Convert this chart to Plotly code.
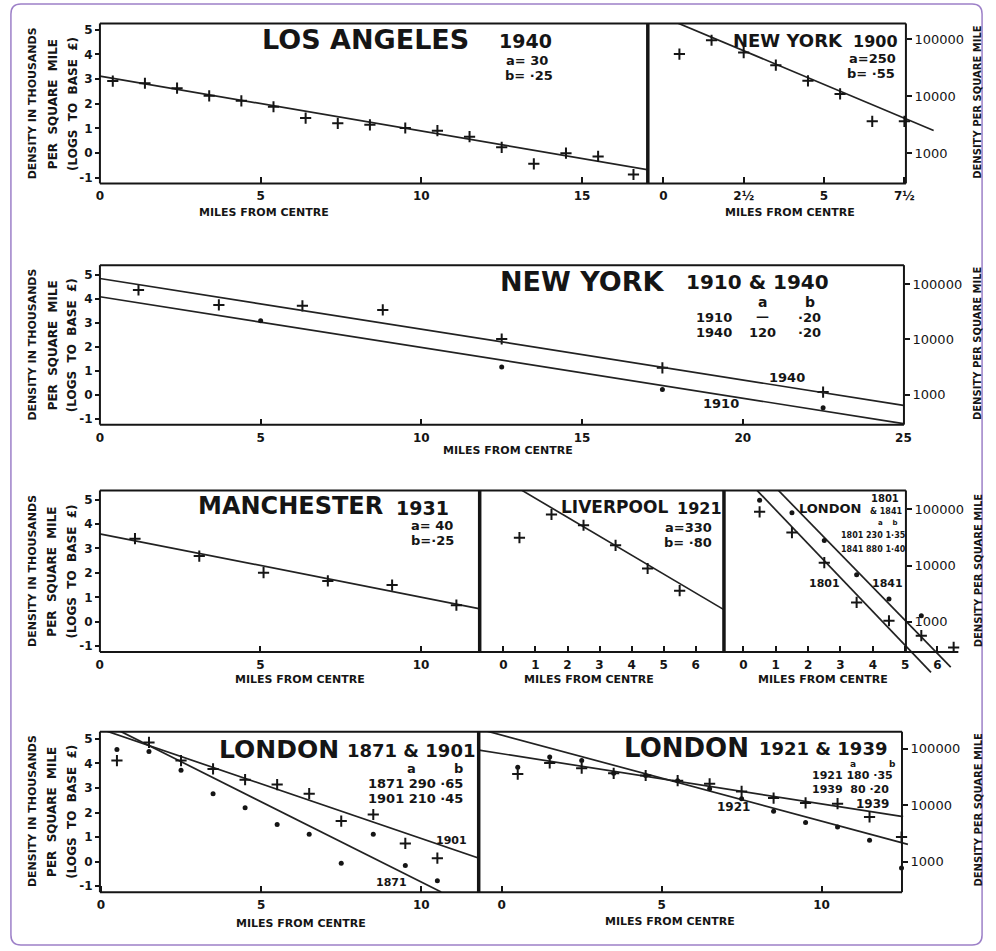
import math
import plotly.graph_objects as go

W, H = 996, 951
INK = "#151515"
FONT = "DejaVu Sans"

# ---------------- data: ln(density, thousands per sq. mile) vs miles from centre ----------------
LA_X = [0.4, 1.4, 2.4, 3.4, 4.4, 5.4, 6.4, 7.4, 8.4, 9.5, 10.5, 11.5, 12.5, 13.5, 14.5, 15.5, 16.6]
LA_Y = [2.92, 2.83, 2.63, 2.32, 2.12, 1.88, 1.42, 1.21, 1.15, 1.02, 0.91, 0.67, 0.24, -0.43, 0.0, -0.13, -0.86]
LA_FIT_X = [0.0, 17.05]
LA_FIT_Y = [3.12, -0.67]

NY00_X = [0.5, 1.5, 2.5, 3.5, 4.5, 5.5, 6.5, 7.5]
NY00_Y = [4.01, 4.57, 4.07, 3.56, 2.93, 2.40, 1.29, 1.29]
NY00_FIT_X = [0.2, 8.41]
NY00_FIT_Y = [5.40, 0.92]

NY40_X = [1.2, 3.7, 6.3, 8.8, 12.5, 17.5, 22.5]
NY40_Y = [4.36, 3.74, 3.70, 3.53, 2.32, 1.12, 0.11]
NY10_X = [5.0, 12.5, 17.5, 22.5]
NY10_Y = [3.08, 1.16, 0.22, -0.54]
NY40_FIT_X = [0.0, 25.0]
NY40_FIT_Y = [4.84, -0.44]
NY10_FIT_X = [0.0, 25.0]
NY10_FIT_Y = [4.08, -1.20]

MAN_X = [1.1, 3.1, 5.1, 7.1, 9.1, 11.1]
MAN_Y = [3.40, 2.69, 2.01, 1.67, 1.50, 0.68]
MAN_FIT_X = [0.0, 11.8]
MAN_FIT_Y = [3.60, 0.54]

LIV_X = [0.5, 1.5, 2.5, 3.5, 4.5, 5.5]
LIV_Y = [3.44, 4.39, 3.95, 3.13, 2.18, 1.27]
LIV_FIT_X = [0.55, 6.9]
LIV_FIT_Y = [5.40, 0.48]

L1801_X = [0.5, 1.5, 2.5, 3.5, 4.5, 5.5, 6.5]
L1801_Y = [4.50, 3.65, 2.42, 0.79, 0.04, -0.57, -1.05]
L1841_X = [0.5, 1.5, 2.5, 3.5, 4.5, 5.5]
L1841_Y = [4.97, 4.46, 3.33, 1.92, 0.93, 0.25]
L1801_FIT_X = [0.39, 5.8]
L1801_FIT_Y = [5.42, -2.07]
L1841_FIT_X = [1.05, 6.41]
L1841_FIT_Y = [5.42, -1.86]

L1871_X = [0.5, 1.5, 2.5, 3.5, 4.5, 5.5, 6.5, 7.5, 8.5, 9.5, 10.5]
L1901_Y = [4.12, 4.86, 4.12, 3.78, 3.34, 3.14, 2.77, 1.65, 1.92, 0.74, 0.14]
L1871_Y = [4.57, 4.49, 3.72, 2.77, 2.19, 1.51, 1.11, -0.07, 1.11, -0.16, -0.78]
L1871_FIT_X = [0.57, 10.62]
L1871_FIT_Y = [5.34, -1.24]
L1901_FIT_X = [0.0, 11.8]
L1901_FIT_Y = [5.40, 0.135]

L1921_X = [0.5, 1.5, 2.5, 3.5, 4.5, 5.5, 6.5, 7.5, 8.5, 9.5, 10.5, 11.5, 12.5]
L1921_Y = [3.85, 4.26, 4.12, 3.60, 3.51, 3.30, 2.97, 2.56, 2.05, 1.59, 1.41, 0.87, -0.26]
L1939_Y = [3.57, 4.02, 3.81, 3.60, 3.51, 3.30, 3.17, 2.86, 2.59, 2.39, 2.36, 1.82, 1.00]
L1921_FIT_X = [-0.72, 12.7]
L1921_FIT_Y = [5.41, 0.70]
L1939_FIT_X = [-0.74, 12.55]
L1939_FIT_Y = [4.55, 1.83]

LEFT_TICK_VALS = [-1, 0, 1, 2, 3, 4, 5]
RIGHT_TICK_TEXT = ["100000", "10000", "1000"]
RIGHT_TICK_VALS = [math.log(100), math.log(10), math.log(1)]

# ---------------- layout helpers ----------------
# row: (pixel of ln=0, pixels per ln unit, box top, box bottom)
ROW1 = (152.7, 24.8, 22.5, 183)
ROW2 = (395.0, 24.1, 265, 425)
ROW3 = (622.7, 24.5, 491, 653)
ROW4 = (863.3, 24.6, 733, 894)

fig = go.Figure()
layout_axes = {}


def axname(i, a):
    return f"{a}axis" if i == 1 else f"{a}axis{i}"


def panel(i, clip, xo, xs, row, xticks, xtext=None, yside=None, ypos=97):
    x0, x1, y0, y1 = clip
    zero, unit, top, bottom = row
    tf = dict(family=FONT, size=12, color=INK, weight="bold")
    layout_axes[axname(i, "x")] = dict(
        domain=[x0 / W, x1 / W], range=[(x0 - xo) / xs, (x1 - xo) / xs],
        anchor="free", position=1 - bottom / H,
        showline=False, showgrid=False, zeroline=False,
        ticks="inside", ticklen=6, tickwidth=2, tickcolor=INK,
        tickvals=xticks, ticktext=xtext or [str(v) for v in xticks],
        ticklabelstandoff=4,
        tickfont=tf, fixedrange=True)
    ya = dict(domain=[1 - y1 / H, 1 - y0 / H], range=[(zero - y1) / unit, (zero - y0) / unit],
              anchor="free", position=ypos / W,
              showline=False, showgrid=False, zeroline=False, fixedrange=True)
    if yside == "left":
        ya.update(side="left", ticks="outside", ticklen=5, tickwidth=2, tickcolor=INK,
                  tickvals=LEFT_TICK_VALS, ticktext=[str(v) for v in LEFT_TICK_VALS],
                  tickfont=dict(family=FONT, size=12, color=INK, weight="bold"))
    elif yside == "right":
        ya.update(side="right", ticks="outside", ticklen=5, tickwidth=2, tickcolor=INK,
                  tickvals=RIGHT_TICK_VALS, ticktext=RIGHT_TICK_TEXT,
                  tickfont=dict(family=FONT, size=13, color=INK))
    else:
        ya.update(showticklabels=False, ticks="")
    layout_axes[axname(i, "y")] = ya


def ref(i):
    return ("x" if i == 1 else f"x{i}"), ("y" if i == 1 else f"y{i}")


def pts(i, xs, ys, symbol="cross"):
    xr, yr = ref(i)
    if symbol == "cross":
        m = dict(symbol="cross-thin", size=8, line=dict(width=2, color=INK), color=INK)
    else:
        m = dict(symbol="circle", size=5, color=INK)
    fig.add_trace(go.Scatter(x=xs, y=ys, mode="markers", marker=m, xaxis=xr, yaxis=yr,
                             cliponaxis=False, hoverinfo="skip", showlegend=False))


def fit(i, xs, ys, yr_override=None):
    xr, yr = ref(i)
    fig.add_trace(go.Scatter(x=xs, y=ys, mode="lines", line=dict(color="#222222", width=1.7),
                             xaxis=xr, yaxis=yr_override or yr, hoverinfo="skip", showlegend=False))


# panels
panel(1, (96.5, 650, ROW1[2], ROW1[3]), 97, 32.5, ROW1, [0, 5, 10, 15], yside="left", ypos=97)
panel(2, (652, 945, ROW1[2], ROW1[3]), 666.7, 32.5, ROW1, [0, 2.5, 5, 7.5], ["0", "2½", "5", "7½"],
      yside="right", ypos=912)
panel(3, (96.5, 910.5, ROW2[2], ROW2[3]), 97, 32.5, ROW2, [0, 5, 10, 15, 20, 25], yside="left", ypos=97)
panel(4, (96.5, 480, ROW3[2], ROW3[3]), 96.7, 32.5, ROW3, [0, 5, 10], yside="left", ypos=97)
panel(5, (482, 727, ROW3[2], ROW3[3]), 505, 32.4, ROW3, [0, 1, 2, 3, 4, 5, 6], yside=None, ypos=482)
panel(6, (729, 968, ROW3[2], 690), 747.7, 32.7, ROW3, [0, 1, 2, 3, 4, 5, 6], yside="right", ypos=912)
panel(7, (96.5, 479, ROW4[2], ROW4[3]), 98, 32.4, ROW4, [0, 5, 10], yside="left", ypos=97)
panel(8, (481, 915, ROW4[2], ROW4[3]), 503.3, 32.34, ROW4, [0, 5, 10], yside="right", ypos=908)

# right-hand axis of the New York 1910 & 1940 panel
layout_axes["yaxis9"] = dict(overlaying="y3", side="right", anchor="free", position=910 / W,
                             range=layout_axes["yaxis3"]["range"], showline=False, showgrid=False,
                             zeroline=False, ticks="outside", ticklen=5, tickwidth=2, tickcolor=INK,
                             tickvals=RIGHT_TICK_VALS, ticktext=RIGHT_TICK_TEXT,
                             tickfont=dict(family=FONT, size=13, color=INK), fixedrange=True)

# traces
fit(1, LA_FIT_X, LA_FIT_Y); pts(1, LA_X, LA_Y)
fit(2, NY00_FIT_X, NY00_FIT_Y); pts(2, NY00_X, NY00_Y)
fit(3, NY40_FIT_X, NY40_FIT_Y, yr_override="y9"); fit(3, NY10_FIT_X, NY10_FIT_Y)
pts(3, NY40_X, NY40_Y); pts(3, NY10_X, NY10_Y, "dot")
fit(4, MAN_FIT_X, MAN_FIT_Y); pts(4, MAN_X, MAN_Y)
fit(5, LIV_FIT_X, LIV_FIT_Y); pts(5, LIV_X, LIV_Y)
fit(6, L1801_FIT_X, L1801_FIT_Y); fit(6, L1841_FIT_X, L1841_FIT_Y)
pts(6, L1801_X, L1801_Y); pts(6, L1841_X, L1841_Y, "dot")
fit(7, L1871_FIT_X, L1871_FIT_Y); fit(7, L1901_FIT_X, L1901_FIT_Y)
pts(7, L1871_X, L1901_Y); pts(7, L1871_X, L1871_Y, "dot")
fit(8, L1921_FIT_X, L1921_FIT_Y); fit(8, L1939_FIT_X, L1939_FIT_Y)
pts(8, L1921_X, L1939_Y); pts(8, L1921_X, L1921_Y, "dot")

# ---------------- frames (paper coordinates) ----------------
shapes = []


def hline(x0, x1, y, w=2):
    shapes.append(dict(type="line", xref="paper", yref="paper", x0=x0 / W, x1=x1 / W,
                       y0=1 - y / H, y1=1 - y / H, line=dict(color=INK, width=w)))


def vline(x, y0, y1, w=2):
    shapes.append(dict(type="line", xref="paper", yref="paper", x0=x / W, x1=x / W,
                       y0=1 - y0 / H, y1=1 - y1 / H, line=dict(color=INK, width=w)))


# row 1
hline(97, 912, ROW1[2]); hline(97, 912, ROW1[3]); vline(97, ROW1[2], ROW1[3]); vline(912, ROW1[2], ROW1[3])
vline(651, ROW1[2], ROW1[3], 3.5)
# row 2
hline(97, 910, ROW2[2]); hline(97, 910, ROW2[3]); vline(97, ROW2[2], ROW2[3]); vline(910, ROW2[2], ROW2[3])
# row 3
hline(97, 912, ROW3[2]); hline(97, 965, ROW3[3]); vline(97, ROW3[2], ROW3[3]); vline(912, ROW3[2], ROW3[3])
vline(481, ROW3[2], ROW3[3], 3.5); vline(728, ROW3[2], ROW3[3], 3.5)
# row 4
hline(97, 908, ROW4[2]); hline(97, 908, ROW4[3]); vline(97, ROW4[2], ROW4[3]); vline(908, ROW4[2], ROW4[3])
vline(480, ROW4[2], ROW4[3], 3.5)

# purple rounded page border
bx0, by0, bx1, by1, r = 7, 3, 989, 947, 10
def P(x, y):
    return f"{x / W:.5f},{1 - y / H:.5f}"
path = (f"M{P(bx0 + r, by0)} L{P(bx1 - r, by0)} Q{P(bx1, by0)} {P(bx1, by0 + r)} "
        f"L{P(bx1, by1 - r)} Q{P(bx1, by1)} {P(bx1 - r, by1)} L{P(bx0 + r, by1)} "
        f"Q{P(bx0, by1)} {P(bx0, by1 - r)} L{P(bx0, by0 + r)} Q{P(bx0, by0)} {P(bx0 + r, by0)} Z")
shapes.append(dict(type="path", xref="paper", yref="paper", path=path,
                   line=dict(color="#9d80c8", width=1.5)))

# ---------------- texts ----------------
annotations = []


def txt(s, x, y, size, bold=True, angle=0):
    annotations.append(dict(text=f"<b>{s}</b>" if bold else s, x=x / W, y=1 - y / H,
                            xref="paper", yref="paper", xanchor="center", yanchor="middle",
                            showarrow=False, textangle=angle, borderpad=0,
                            font=dict(family=FONT, size=size, color=INK)))


# row 1
txt("LOS ANGELES", 366, 39, 27); txt("1940", 527, 40, 19)
txt("a= 30", 529, 60, 13); txt("b= ·25", 531, 75, 13)
txt("NEW YORK", 793, 40, 18); txt("1900", 881, 41, 16)
txt("a=250", 878, 58, 13); txt("b= ·55", 877, 73, 13)
txt("MILES FROM CENTRE", 263, 212, 11); txt("MILES FROM CENTRE", 795, 212, 11)
# row 2
txt("NEW YORK", 585, 281, 27); txt("1910 &amp; 1940", 762, 282, 20)
txt("a", 767, 302, 14); txt("b", 815, 302, 14)
txt("1910", 718, 318, 13); txt("—", 767, 317, 13); txt("·20", 815, 318, 13)
txt("1940", 718, 333, 13); txt("120", 767, 333, 13); txt("·20", 815, 333, 13)
txt("1940", 792, 378, 13); txt("1910", 725, 404, 13)
txt("MILES FROM CENTRE", 510, 451, 11)
# row 3
txt("MANCHESTER", 290, 507, 24); txt("1931", 423, 509, 19)
txt("a= 40", 433, 526, 13); txt("b=·25", 433, 541, 13)
txt("LIVERPOOL", 617, 508, 17); txt("1921", 703, 509, 16)
txt("a=330", 692, 528, 13); txt("b= ·80", 692, 543, 13)
txt("LONDON", 835, 509, 13); txt("1801", 891, 499, 10); txt("&amp; 1841", 892, 512, 8)
txt("a    b", 893, 524, 7)
txt("1801 230 1·35", 879, 536, 8); txt("1841 880 1·40", 879, 550, 8)
txt("1801", 830, 584, 11); txt("1841", 893, 584, 11)
txt("MILES FROM CENTRE", 299, 681, 11); txt("MILES FROM CENTRE", 592, 681, 11)
txt("MILES FROM CENTRE", 828, 681, 11)
# row 4
txt("LONDON", 278, 751, 25); txt("1871 &amp; 1901", 412, 752, 18)
txt("a", 412, 770, 13); txt("b", 460, 770, 13)
txt("1871 290 ·65", 416, 785, 13); txt("1901 210 ·45", 416, 800, 13)
txt("1901", 453, 842, 11); txt("1871", 392, 884, 11)
txt("MILES FROM CENTRE", 300, 925, 11)
txt("LONDON", 690, 749, 26); txt("1921 &amp; 1939", 828, 750, 18)
txt("a", 858, 765, 9); txt("b", 898, 765, 9)
txt("1921 180 ·35", 858, 777, 11); txt("1939  80 ·20", 856, 791, 11)
txt("1921", 738, 809, 12); txt("1939", 878, 806, 12)
txt("MILES FROM CENTRE", 673, 923, 11)

# axis titles
for c in [103, 345, 572, 813]:
    txt("DENSITY IN THOUSANDS", 29, c, 11, angle=-90)
    txt("PER  SQUARE  MILE", 49, c, 12, angle=-90)
    txt("(LOGS  TO  BASE  £)", 69, c, 12, angle=-90)
for c in [101, 343, 571, 811]:
    txt("DENSITY PER SQUARE MILE", 985, c, 10, angle=-90)

fig.update_layout(
    width=W, height=H, autosize=False,
    margin=dict(l=0, r=0, t=0, b=0, pad=0),
    paper_bgcolor="white", plot_bgcolor="rgba(0,0,0,0)",
    showlegend=False, shapes=shapes, annotations=annotations,
    font=dict(family=FONT, color=INK),
    **layout_axes,
)

fig.write_html("out.html", config={"displayModeBar": False})
